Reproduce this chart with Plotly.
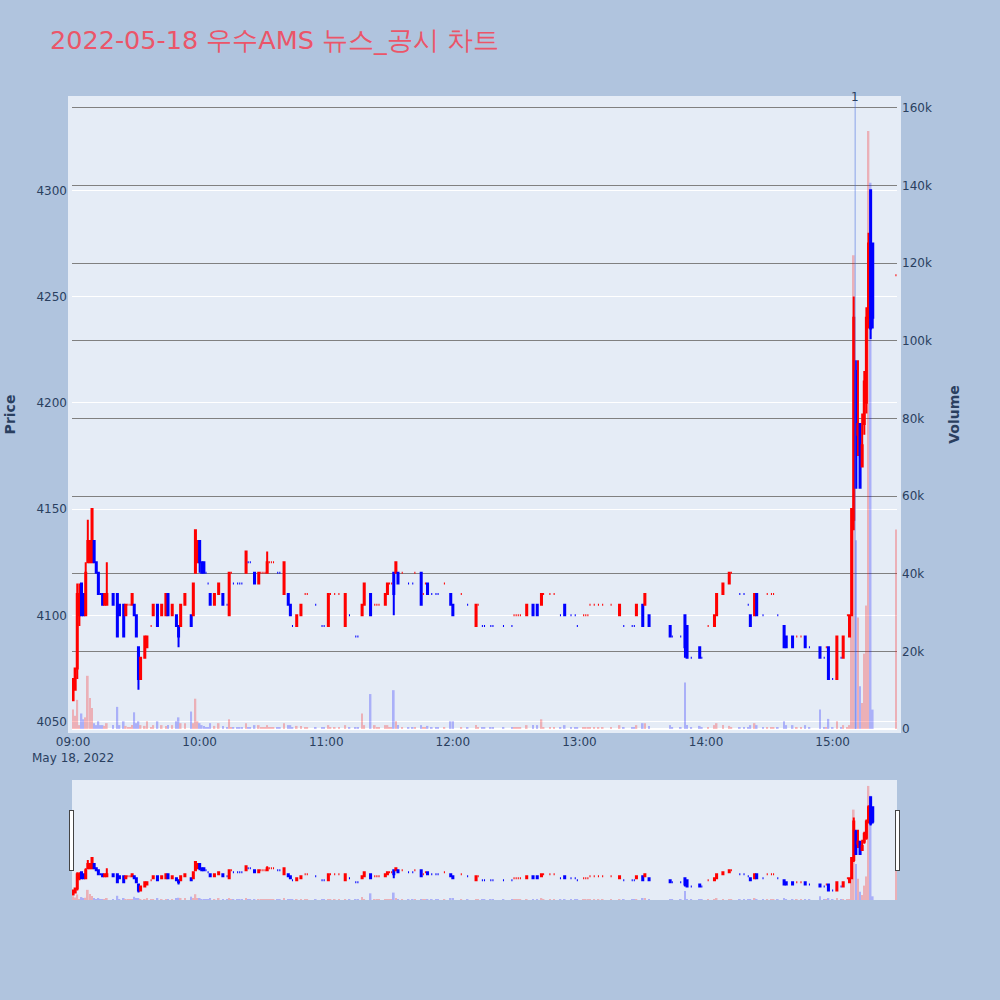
import pandas as pd
import plotly.graph_objects as go
from plotly.subplots import make_subplots

# minutes after 09:00 that had trades (one candle per minute)
minutes = [
    0, 1, 2, 3, 4, 5, 6, 7, 8, 9,
    10, 11, 12, 13, 14, 15, 16, 19, 21, 22,
    24, 25, 26, 27, 28, 29, 30, 31, 32, 34,
    35, 37, 38, 40, 42, 44, 45, 47, 49, 50,
    51, 53, 56, 57, 58, 59, 60, 61, 62, 63,
    64, 65, 67, 69, 71, 73, 74, 75, 76, 78,
    79, 80, 82, 83, 84, 86, 88, 89, 90, 91,
    92, 93, 94, 95, 97, 98, 100, 102, 103, 104,
    106, 108, 110, 111, 115, 118, 119, 121, 122, 124,
    126, 129, 131, 134, 135, 137, 138, 141, 143, 144,
    145, 148, 149, 150, 151, 152, 153, 154, 156, 159,
    161, 162, 165, 166, 167, 168, 170, 172, 173, 176,
    179, 180, 184, 187, 191, 192, 194, 195, 198, 199,
    204, 208, 209, 210, 211, 212, 215, 218, 220, 222,
    223, 226, 228, 231, 233, 236, 238, 239, 242, 243,
    244, 245, 247, 249, 251, 255, 259, 261, 265, 266,
    267, 270, 271, 273, 283, 284, 288, 290, 291, 293,
    297, 298, 301, 304, 305, 308, 311, 312, 316, 318,
    320, 321, 323, 324, 327, 329, 331, 332, 334, 337,
    338, 341, 343, 345, 347, 349, 354, 356, 357, 358,
    360, 362, 364, 365, 367, 368, 369, 370, 371, 372,
    373, 374, 375, 376, 377, 378, 379, 390,
]

opens = [
    4060, 4065, 4075, 4100, 4115, 4110, 4100, 4125, 4125, 4125,
    4135, 4125, 4120, 4110, 4110, 4105, 4105, 4110, 4110, 4105,
    4105, 4100, 4105, 4105, 4105, 4105, 4100, 4085, 4070, 4080,
    4085, 4095, 4100, 4105, 4100, 4100, 4110, 4100, 4100, 4095,
    4095, 4105, 4100, 4100, 4120, 4125, 4135, 4125, 4125, 4120,
    4115, 4110, 4105, 4110, 4110, 4105, 4100, 4120, 4115, 4115,
    4115, 4115, 4120, 4125, 4125, 4120, 4115, 4120, 4120, 4120,
    4120, 4125, 4125, 4125, 4120, 4120, 4110, 4110, 4105, 4095,
    4095, 4100, 4110, 4110, 4105, 4095, 4095, 4095, 4110, 4110,
    4110, 4095, 4100, 4090, 4090, 4100, 4105, 4110, 4105, 4105,
    4105, 4105, 4110, 4115, 4115, 4120, 4120, 4120, 4120, 4115,
    4115, 4120, 4120, 4110, 4115, 4115, 4110, 4110, 4110, 4115,
    4110, 4105, 4110, 4105, 4095, 4105, 4095, 4095, 4095, 4095,
    4095, 4095, 4100, 4100, 4100, 4100, 4100, 4105, 4105, 4105,
    4110, 4110, 4110, 4100, 4105, 4100, 4100, 4095, 4100, 4100,
    4100, 4105, 4105, 4105, 4105, 4105, 4100, 4095, 4095, 4095,
    4100, 4105, 4105, 4100, 4095, 4090, 4090, 4100, 4095, 4080,
    4085, 4080, 4095, 4095, 4100, 4110, 4115, 4120, 4110, 4110,
    4105, 4100, 4100, 4110, 4100, 4110, 4110, 4110, 4100, 4095,
    4090, 4090, 4090, 4090, 4090, 4085, 4085, 4080, 4085, 4085,
    4070, 4070, 4080, 4080, 4100, 4090, 4100, 4145, 4215, 4185,
    4190, 4170, 4190, 4200, 4240, 4300, 4275, 4260,
]

highs = [
    4070, 4075, 4115, 4115, 4115, 4110, 4125, 4145, 4135, 4150,
    4135, 4125, 4120, 4110, 4110, 4110, 4125, 4110, 4110, 4105,
    4105, 4105, 4105, 4105, 4110, 4105, 4100, 4085, 4080, 4090,
    4090, 4095, 4105, 4105, 4105, 4110, 4110, 4105, 4100, 4095,
    4105, 4110, 4100, 4115, 4140, 4135, 4135, 4125, 4125, 4120,
    4115, 4110, 4110, 4115, 4110, 4105, 4120, 4120, 4115, 4115,
    4115, 4115, 4130, 4125, 4125, 4120, 4120, 4120, 4120, 4120,
    4130, 4125, 4125, 4125, 4120, 4120, 4125, 4110, 4105, 4095,
    4100, 4105, 4110, 4110, 4105, 4095, 4095, 4110, 4110, 4110,
    4110, 4110, 4100, 4090, 4090, 4105, 4115, 4110, 4105, 4105,
    4105, 4110, 4115, 4115, 4115, 4120, 4125, 4120, 4120, 4115,
    4115, 4120, 4120, 4110, 4115, 4115, 4110, 4110, 4110, 4115,
    4110, 4105, 4110, 4105, 4105, 4105, 4095, 4095, 4095, 4095,
    4095, 4095, 4100, 4100, 4100, 4100, 4105, 4105, 4105, 4110,
    4110, 4110, 4110, 4100, 4105, 4100, 4100, 4095, 4100, 4100,
    4100, 4105, 4105, 4105, 4105, 4105, 4105, 4095, 4095, 4095,
    4105, 4105, 4110, 4100, 4095, 4090, 4090, 4100, 4095, 4080,
    4085, 4080, 4095, 4100, 4110, 4115, 4120, 4120, 4110, 4110,
    4105, 4100, 4110, 4110, 4100, 4110, 4110, 4110, 4100, 4095,
    4090, 4090, 4090, 4090, 4090, 4085, 4085, 4080, 4085, 4085,
    4070, 4090, 4080, 4090, 4100, 4100, 4150, 4250, 4220, 4220,
    4190, 4195, 4215, 4245, 4280, 4300, 4275, 4260,
]

lows = [
    4060, 4065, 4070, 4095, 4100, 4100, 4100, 4125, 4125, 4125,
    4125, 4120, 4110, 4110, 4105, 4105, 4105, 4105, 4090, 4100,
    4090, 4100, 4105, 4105, 4105, 4100, 4090, 4065, 4070, 4080,
    4085, 4095, 4100, 4095, 4100, 4100, 4100, 4100, 4095, 4085,
    4095, 4105, 4095, 4100, 4120, 4125, 4120, 4120, 4120, 4120,
    4115, 4105, 4105, 4110, 4105, 4105, 4100, 4120, 4115, 4115,
    4115, 4115, 4120, 4125, 4125, 4115, 4115, 4120, 4120, 4120,
    4120, 4125, 4125, 4125, 4120, 4120, 4110, 4105, 4100, 4095,
    4095, 4100, 4110, 4110, 4105, 4095, 4095, 4095, 4110, 4110,
    4110, 4095, 4100, 4090, 4090, 4100, 4105, 4100, 4105, 4105,
    4105, 4105, 4110, 4115, 4115, 4100, 4120, 4115, 4120, 4115,
    4115, 4120, 4105, 4110, 4115, 4110, 4110, 4110, 4110, 4115,
    4105, 4100, 4110, 4105, 4095, 4105, 4095, 4095, 4095, 4095,
    4095, 4095, 4100, 4100, 4100, 4100, 4100, 4100, 4100, 4105,
    4110, 4110, 4110, 4100, 4100, 4100, 4100, 4095, 4100, 4100,
    4100, 4105, 4105, 4105, 4105, 4105, 4100, 4095, 4095, 4095,
    4100, 4095, 4105, 4095, 4090, 4090, 4090, 4080, 4080, 4080,
    4080, 4080, 4095, 4095, 4100, 4110, 4115, 4120, 4110, 4110,
    4105, 4095, 4100, 4100, 4100, 4110, 4110, 4110, 4100, 4085,
    4085, 4085, 4090, 4090, 4085, 4085, 4080, 4080, 4085, 4070,
    4070, 4070, 4080, 4080, 4100, 4090, 4100, 4140, 4160, 4175,
    4160, 4170, 4185, 4195, 4235, 4230, 4235, 4260,
]

closes = [
    4070, 4075, 4110, 4110, 4100, 4100, 4120, 4135, 4135, 4150,
    4125, 4120, 4110, 4110, 4105, 4110, 4110, 4105, 4090, 4100,
    4090, 4105, 4105, 4105, 4110, 4100, 4090, 4070, 4080, 4090,
    4090, 4095, 4105, 4095, 4105, 4110, 4100, 4105, 4095, 4090,
    4105, 4110, 4095, 4115, 4140, 4135, 4125, 4120, 4120, 4120,
    4115, 4105, 4110, 4115, 4105, 4105, 4120, 4120, 4115, 4115,
    4115, 4115, 4130, 4125, 4125, 4115, 4120, 4120, 4120, 4120,
    4125, 4125, 4125, 4125, 4120, 4120, 4125, 4105, 4100, 4095,
    4100, 4105, 4110, 4110, 4105, 4095, 4095, 4110, 4110, 4110,
    4110, 4110, 4100, 4090, 4090, 4105, 4115, 4100, 4105, 4105,
    4105, 4110, 4115, 4115, 4115, 4110, 4125, 4115, 4120, 4115,
    4115, 4120, 4105, 4110, 4115, 4110, 4110, 4110, 4110, 4115,
    4105, 4100, 4110, 4105, 4105, 4105, 4095, 4095, 4095, 4095,
    4095, 4095, 4100, 4100, 4100, 4100, 4105, 4100, 4100, 4110,
    4110, 4110, 4110, 4100, 4100, 4100, 4100, 4095, 4100, 4100,
    4100, 4105, 4105, 4105, 4105, 4105, 4105, 4095, 4095, 4095,
    4105, 4095, 4110, 4095, 4090, 4090, 4090, 4085, 4080, 4080,
    4080, 4080, 4095, 4100, 4110, 4115, 4120, 4120, 4110, 4110,
    4105, 4095, 4110, 4100, 4100, 4110, 4110, 4110, 4100, 4085,
    4085, 4085, 4090, 4090, 4085, 4085, 4080, 4080, 4085, 4070,
    4070, 4090, 4080, 4090, 4100, 4100, 4150, 4240, 4160, 4190,
    4160, 4180, 4210, 4240, 4275, 4235, 4240, 4260,
]

volumes = [
    5000, 3400, 7500, 1000, 4000, 2500, 3000, 13700, 8000, 5400,
    1500, 1000, 2000, 1000, 1000, 800, 1500, 1000, 5700, 1000,
    2000, 800, 500, 500, 1000, 4300, 1500, 2000, 1000, 800,
    2000, 500, 1000, 2000, 1000, 800, 1000, 1000, 2000, 3000,
    1500, 1500, 4500, 1500, 7800, 2000, 1500, 1000, 800, 500,
    500, 1500, 800, 1500, 800, 500, 2500, 500, 500, 500,
    500, 500, 1500, 500, 500, 1000, 1000, 500, 500, 500,
    1000, 500, 500, 500, 500, 500, 1500, 1000, 1000, 500,
    800, 800, 500, 500, 500, 500, 500, 1000, 500, 500,
    500, 1000, 500, 500, 500, 4000, 1000, 9000, 1000, 500,
    500, 1000, 1000, 500, 500, 10000, 2000, 1000, 500, 500,
    500, 500, 1000, 500, 500, 800, 500, 500, 500, 500,
    2000, 2000, 500, 500, 1000, 500, 500, 500, 500, 500,
    500, 500, 500, 500, 500, 500, 1000, 1000, 1000, 2500,
    500, 500, 500, 500, 1000, 500, 500, 500, 500, 500,
    500, 500, 500, 500, 500, 500, 1000, 500, 500, 500,
    1000, 1500, 1500, 800, 1000, 500, 500, 12000, 1000, 500,
    800, 500, 500, 1000, 1500, 1000, 800, 500, 500, 500,
    500, 1000, 1500, 1000, 500, 500, 500, 500, 500, 2000,
    1000, 1000, 500, 500, 1000, 500, 5000, 500, 500, 2600,
    500, 2000, 500, 1000, 500, 1000, 30000, 122000, 48600, 28700,
    11000, 6700, 19400, 31800, 154000, 140700, 5000, 51400,
]

news_times = ["15:10:40"]
news_labels = ["1"]

day = "2022-05-18"
times = pd.Timestamp(f"{day} 09:00") + pd.to_timedelta(minutes, unit="min")

# same up/down rule plotly uses for candles (flat -> compare to previous close)
vol_colors = []
prev_c = None
up = True
for o, c in zip(opens, closes):
    if c != o:
        up = c > o
    elif prev_c is not None and c != prev_c:
        up = c > prev_c
    vol_colors.append("red" if up else "blue")
    prev_c = c

fig = make_subplots(specs=[[{"secondary_y": True}]])

fig.add_trace(go.Candlestick(
    x=times, open=opens, high=highs, low=lows, close=closes,
    increasing=dict(line=dict(color="red"), fillcolor="red"),
    decreasing=dict(line=dict(color="blue"), fillcolor="blue"),
    name="Price"), secondary_y=False)

fig.add_trace(go.Bar(
    x=times, y=volumes, marker=dict(color=vol_colors, line=dict(width=0)),
    opacity=0.25, name="Volume"), secondary_y=True)

for t, label in zip(news_times, news_labels):
    ts = f"{day} {t}"
    fig.add_shape(type="line", xref="x", yref="paper", x0=ts, x1=ts, y0=0, y1=1,
                  line=dict(color="rgba(65,105,225,0.55)", width=1))
    fig.add_annotation(x=ts, y=1, xref="x", yref="paper", text=label,
                       showarrow=False, yanchor="middle", yshift=3,
                       font=dict(size=12, color="#2a3f5f"))

x_range = [f"{day} 08:59:30", f"{day} 15:30:30"]

fig.update_layout(
    width=1000, height=1000, autosize=False,
    font=dict(family="DejaVu Sans"),
    title=dict(text="2022-05-18 우수AMS 뉴스_공시 차트", x=0.05, y=0.96,
               yanchor="middle", font=dict(size=25.5, color="#EB5569")),
    paper_bgcolor="#B0C4DE",
    margin=dict(l=72, r=103, t=100, b=100, pad=4),
    showlegend=False,
    bargap=0.2,
)
fig.update_xaxes(range=x_range, dtick=3600000, automargin=False, domain=[0, 1],
                 rangeslider=dict(visible=True, range=x_range))
fig.update_yaxes(title=dict(text="<b>Price</b>", standoff=21), range=[4046.5, 4342.5],
                 automargin=False, secondary_y=False)
fig.update_yaxes(title=dict(text="<b>Volume</b>", standoff=22), range=[0, 162000],
                 automargin=False, showgrid=True, gridcolor="gray", secondary_y=True)

fig.write_html("out.html", config={"displayModeBar": False},
               post_script="document.body.style.margin='0';")
